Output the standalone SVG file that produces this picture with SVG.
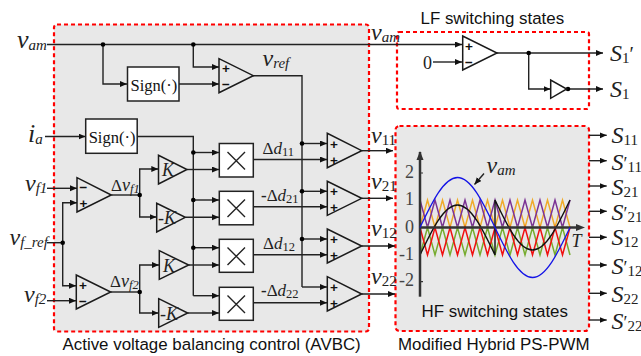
<svg xmlns="http://www.w3.org/2000/svg" width="641" height="356" viewBox="0 0 641 356">
<style>
text{font-family:"Liberation Serif","Times New Roman",serif;fill:#222}
.cap{font-family:"Liberation Sans",Arial,sans-serif;font-size:16.900px;fill:#111}
.v{font-style:italic;font-size:24px}
.big{font-size:26px}
.sub{font-size:15px;baseline-shift:-2px}
.i{font-style:italic}
.sg{font-size:16.500px;fill:#111}
.d{font-size:17px}
.ds{font-size:12.500px;baseline-shift:-2px}
.ps{font-family:"Liberation Sans",Arial,sans-serif;font-size:13.500px;font-weight:bold;text-anchor:middle;fill:#111}
.K{font-style:italic;font-size:18px}
.tick{font-size:18px;text-anchor:end;fill:#444}
.panel{stroke:#f00;stroke-width:2.200;stroke-dasharray:4 3}
.w{fill:none;stroke:#222;stroke-width:1.400}
.a{marker-end:url(#ah)}
.t{fill:none;stroke:#1a1a1a;stroke-width:1.500;stroke-linejoin:miter}
.b{fill:#fff;stroke:#222;stroke-width:1.500}
.x{stroke:#222;stroke-width:1.400}
.dot{fill:#000}
.tri{fill:none;stroke-width:1.500}
</style>
<defs>
<marker id="ah" markerUnits="userSpaceOnUse" markerWidth="8" markerHeight="7" refX="7" refY="3" orient="auto"><path d="M0 0L7 3L0 6z" fill="#111"/></marker>
</defs>
<g id="panels">
<rect class="panel" x="54" y="24.500" width="315" height="307" rx="3" fill="#e8e8e8"/>
<rect class="panel" x="397" y="32" width="192" height="77" rx="2" fill="#fff"/>
<rect class="panel" x="395.500" y="126" width="193.500" height="205" rx="4" fill="#e8e8e8"/>
</g>
<g id="connectors">
<path class="w a" style="stroke-width:1.700" d="M47 44.500H462"/>
<path class="w a" d="M103 44.500V84H127"/>
<path class="w a" d="M193.300 44.500V67H219"/>
<path class="w a" d="M179 84H219"/>
<path class="w" d="M253 75.700H302V287"/>
<path class="w a" d="M302 143.500H327"/>
<path class="w a" d="M302 191.300H327"/>
<path class="w a" d="M302 239H327"/>
<path class="w a" d="M302 287H327"/>
<path class="w a" d="M45 136.500H85.500"/>
<path class="w" d="M137 136.500H193.300V295.700"/>
<path class="w a" d="M193.300 152.500H219"/>
<path class="w a" d="M193.300 200H219"/>
<path class="w a" d="M193.300 247.700H219"/>
<path class="w a" d="M193.300 295.700H219"/>
<path class="w a" d="M187 169.500H219"/>
<path class="w a" d="M185.500 217.300H219"/>
<path class="w a" d="M188.700 265H219"/>
<path class="w a" d="M187.700 313H219"/>
<path class="w a" d="M253 159.500H327"/>
<path class="w a" d="M253 206.700H327"/>
<path class="w a" d="M253 254.700H327"/>
<path class="w a" d="M253 302.700H327"/>
<path class="w a" d="M361.700 150.700H393"/>
<path class="w a" d="M361.700 198.300H393"/>
<path class="w a" d="M361.700 246H395"/>
<path class="w a" d="M361.700 294H395"/>
<path class="w a" d="M47 188.300H77"/>
<path class="w a" d="M47 300.700H76"/>
<path class="w" d="M47 242.700H62.700"/>
<path class="w a" d="M62.700 242.700V202.700H77"/>
<path class="w a" d="M62.700 242.700V285.700H76"/>
<path class="w" d="M111.300 195H139.700"/>
<path class="w a" d="M139.700 195V217H156.500"/>
<path class="w a" d="M139.700 195V169H158.300"/>
<path class="w" d="M110.700 292H139.700"/>
<path class="w a" d="M139.700 292V313H158.500"/>
<path class="w a" d="M139.700 292V265H159"/>
<path class="w a" d="M433 62H462"/>
<path class="w a" d="M497 53H603"/>
<path class="w a" d="M528.700 53V89H550.500"/>
<path class="w a" d="M567 89H603"/>
<path class="w a" d="M589 135.300H606.700"/>
<path class="w a" d="M589 160.700H606.700"/>
<path class="w a" d="M589 186H606.700"/>
<path class="w a" d="M589 211.300H606.700"/>
<path class="w a" d="M589 237.300H606.700"/>
<path class="w a" d="M589 265H606.700"/>
<path class="w a" d="M589 293.300H606.700"/>
<path class="w a" d="M589 320H606.700"/>
<g class="dot">
<circle cx="103" cy="44.500" r="2.300"/><circle cx="193.300" cy="44.500" r="2.300"/>
<circle cx="193.300" cy="152.500" r="2.300"/><circle cx="193.300" cy="200" r="2.300"/><circle cx="193.300" cy="247.700" r="2.300"/>
<circle cx="302" cy="143.500" r="2.300"/><circle cx="302" cy="191.300" r="2.300"/><circle cx="302" cy="239" r="2.300"/>
<circle cx="62.700" cy="242.700" r="2.300"/><circle cx="139.700" cy="195" r="2.300"/><circle cx="139.700" cy="292" r="2.300"/>
<circle cx="528.700" cy="53" r="2.300"/><circle cx="568" cy="89" r="2.300"/>
</g>
</g>
<g id="sign1"><rect class="b" x="127.500" y="67" width="51.500" height="34"/><text class="sg" x="130.500" y="90.500">Sign(·)</text></g>
<g id="sign2"><rect class="b" x="85.700" y="119" width="51.500" height="34.300"/><text class="sg" x="88.700" y="143">Sign(·)</text></g>
<g id="cmpRef"><polygon class="t" points="219,58.700 219,92.700 253.300,75.700"/><text class="ps" x="226" y="73">+</text><text class="ps" x="226" y="89">−</text></g>
<g id="cmpF1"><polygon class="t" points="77,177.700 77,212 111.300,195"/><text class="ps" x="83.500" y="192">−</text><text class="ps" x="83.500" y="208">+</text></g>
<g id="cmpF2"><polygon class="t" points="76.300,275 76.300,309 110.700,292"/><text class="ps" x="83" y="290">+</text><text class="ps" x="83" y="305.500">−</text></g>
<g id="gainK1"><polygon class="t" points="158.500,155.300 158.500,184 187,169.500"/><text class="K" x="162" y="175.500">K</text></g>
<g id="gainNK1"><polygon class="t" points="156.700,203.300 156.700,232 185.300,217.300"/><text class="K" x="158" y="224">-K</text></g>
<g id="gainK2"><polygon class="t" points="159.300,250.700 159.300,279.300 188.700,265"/><text class="K" x="163" y="271.500">K</text></g>
<g id="gainNK2"><polygon class="t" points="158.700,298.700 158.700,327.300 187.700,313"/><text class="K" x="160" y="320">-K</text></g>
<g id="mul1"><rect class="b" x="219.300" y="143.500" width="34" height="33.500"/><path class="x" d="M227.500 152L245 169.500M245 152L227.500 169.500"/></g>
<g id="mul2"><rect class="b" x="219.300" y="191.300" width="34" height="33.500"/><path class="x" d="M227.500 199.500L245 217M245 199.500L227.500 217"/></g>
<g id="mul3"><rect class="b" x="219.300" y="239.300" width="34" height="33"/><path class="x" d="M227.500 247.500L245 265M245 247.500L227.500 265"/></g>
<g id="mul4"><rect class="b" x="219.300" y="287.300" width="34" height="33"/><path class="x" d="M227.500 295.500L245 313M245 295.500L227.500 313"/></g>
<g id="sum1"><polygon class="t" points="327.300,133.300 327.300,167.700 361.700,150.700"/><text class="ps" x="334" y="148.500">+</text><text class="ps" x="334" y="164.500">+</text></g>
<g id="sum2"><polygon class="t" points="327.300,181.300 327.300,215.300 361.700,198.300"/><text class="ps" x="334" y="196">+</text><text class="ps" x="334" y="212">+</text></g>
<g id="sum3"><polygon class="t" points="327.300,229 327.300,263 361.700,246"/><text class="ps" x="334" y="244">+</text><text class="ps" x="334" y="260">+</text></g>
<g id="sum4"><polygon class="t" points="327.300,276.700 327.300,311 361.700,294"/><text class="ps" x="334" y="292">+</text><text class="ps" x="334" y="308">+</text></g>
<g id="cmpLF"><polygon class="t" points="462.700,36 462.700,70 497,53"/><text class="ps" x="469" y="51">+</text><text class="ps" x="469" y="67">−</text></g>
<g id="notLF"><polygon class="t" points="550.700,80 550.700,98.300 566.700,89"/></g>
<g id="plot">
<path class="tri" stroke="#f0ab2a" d="M420 227.500l7.500-27.500 7.500 27.500 7.500-27.500 7.500 27.500 7.500-27.500 7.500 27.500 7.500-27.500 7.500 27.500 7.500-27.500 7.500 27.500 7.500-27.500 7.500 27.500 7.500-27.500 7.500 27.500 7.500-27.500 7.500 27.500 7.500-27.500 7.500 27.500 7.500-27.500 7.500 27.500"/>
<path class="tri" stroke="#7b3294" d="M420 200l7.500 27.500 7.500-27.500 7.500 27.500 7.500-27.500 7.500 27.500 7.500-27.500 7.500 27.500 7.500-27.500 7.500 27.500 7.500-27.500 7.500 27.500 7.500-27.500 7.500 27.500 7.500-27.500 7.500 27.500 7.500-27.500 7.500 27.500 7.500-27.500 7.500 27.500 7.500-27.500"/>
<path class="tri" stroke="#77ac30" d="M420 255l7.500-27.500 7.500 27.500 7.500-27.500 7.500 27.500 7.500-27.500 7.500 27.500 7.500-27.500 7.500 27.500 7.500-27.500 7.500 27.500 7.500-27.500 7.500 27.500 7.500-27.500 7.500 27.500 7.500-27.500 7.500 27.500 7.500-27.500 7.500 27.500 7.500-27.500 7.500 27.500"/>
<path class="tri" stroke="#f01010" d="M420 227.500l7.500 27.500 7.500-27.500 7.500 27.500 7.500-27.500 7.500 27.500 7.500-27.500 7.500 27.500 7.500-27.500 7.500 27.500 7.500-27.500 7.500 27.500 7.500-27.500 7.500 27.500 7.500-27.500 7.500 27.500 7.500-27.500 7.500 27.500 7.500-27.500 7.500 27.500 7.500-27.500"/>
<path fill="none" stroke="#111" stroke-width="1.400" d="M420 255C432.230 229.400 443.930 205 457.500 205C471.070 205 482.770 229.400 495 255V200C507.230 225.600 518.930 250 532.500 250C546.070 250 557.770 225.600 570 200"/>
<path d="M420 152V296.700" stroke="#333" stroke-width="2.500" fill="none"/>
<path d="M420 151l-3.500 9h7z" fill="#333"/>
<path d="M420 227.500H580" stroke="#333" stroke-width="2.500" fill="none"/>
<path d="M585 227.500l-9-3.500v7z" fill="#333"/>
<path d="M420 173h3M420 281.700h3" stroke="#333" stroke-width="1.200" fill="none"/>
<path fill="none" stroke="#1414e6" stroke-width="1.300" d="M420 227.500C432.230 201.900 443.930 177.500 457.500 177.500C471.070 177.500 482.770 201.900 495 227.500C507.230 253.100 518.930 277.500 532.500 277.500C546.070 277.500 557.770 253.100 570 227.500"/>
<path class="w a" d="M484 173.500L474.500 184.500"/>
<text class="tick" x="414" y="178">2</text>
<text class="tick" x="414" y="204.500">1</text>
<text class="tick" x="414" y="233">0</text>
<text class="tick" x="414" y="259.500">-1</text>
<text class="tick" x="414" y="286">-2</text>
<text class="i" font-size="18" x="571.500" y="246.500">T</text>
<text class="v" x="486.500" y="173">v<tspan class="sub">am</tspan></text>
</g>
<g id="labels">
<text class="v big" x="17" y="48">v<tspan class="sub">am</tspan></text>
<text class="v" x="371" y="39.500">v<tspan class="sub">am</tspan></text>
<text class="v" x="262.500" y="65.500">v<tspan class="sub">ref</tspan></text>
<text class="v big" x="28" y="141.500">i<tspan class="sub">a</tspan></text>
<text class="v" x="25" y="190.500">v<tspan class="sub">f1</tspan></text>
<text class="v" x="24" y="301.500">v<tspan class="sub">f2</tspan></text>
<text class="v" x="9.500" y="245">v<tspan class="sub">f_ref</tspan></text>
<text class="d" x="111" y="190.500">Δ<tspan class="i" font-size="18">v</tspan><tspan class="i ds">f1</tspan></text>
<text class="d" x="110" y="286.500">Δ<tspan class="i" font-size="18">v</tspan><tspan class="i ds">f2</tspan></text>
<text class="d" x="262.500" y="153.500">Δ<tspan class="i">d</tspan><tspan class="ds">11</tspan></text>
<text class="d" x="261" y="200.500"><tspan font-weight="bold">-</tspan>Δ<tspan class="i">d</tspan><tspan class="ds">21</tspan></text>
<text class="d" x="263" y="248.500">Δ<tspan class="i">d</tspan><tspan class="ds">12</tspan></text>
<text class="d" x="261" y="296"><tspan font-weight="bold">-</tspan>Δ<tspan class="i">d</tspan><tspan class="ds">22</tspan></text>
<text class="v" x="371" y="143">v<tspan class="sub" font-style="normal">11</tspan></text>
<text class="v" x="371" y="188.500">v<tspan class="sub" font-style="normal">21</tspan></text>
<text class="v" x="371" y="236">v<tspan class="sub" font-style="normal">12</tspan></text>
<text class="v" x="371" y="284">v<tspan class="sub" font-style="normal">22</tspan></text>
<text font-size="18" fill="#444" x="423" y="68.500">0</text>
<text class="v" x="610" y="61">S<tspan class="sub" font-style="normal">1</tspan><tspan font-style="normal" font-size="20">′</tspan></text>
<text class="v" x="610" y="96.500">S<tspan class="sub" font-style="normal">1</tspan></text>
<text class="v" x="611.500" y="142.500">S<tspan class="sub" font-style="normal">11</tspan></text>
<text class="v" x="611.500" y="170">S<tspan font-style="normal" font-size="18">′</tspan><tspan class="sub" font-style="normal">11</tspan></text>
<text class="v" x="611.500" y="195">S<tspan class="sub" font-style="normal">21</tspan></text>
<text class="v" x="611.500" y="220">S<tspan font-style="normal" font-size="18">′</tspan><tspan class="sub" font-style="normal">21</tspan></text>
<text class="v" x="611.500" y="245">S<tspan class="sub" font-style="normal">12</tspan></text>
<text class="v" x="611.500" y="273.500">S<tspan font-style="normal" font-size="18">′</tspan><tspan class="sub" font-style="normal">12</tspan></text>
<text class="v" x="611.500" y="301.500">S<tspan class="sub" font-style="normal">22</tspan></text>
<text class="v" x="611.500" y="328.500">S<tspan font-style="normal" font-size="18">′</tspan><tspan class="sub" font-style="normal">22</tspan></text>
<text class="cap" x="420.500" y="24">LF switching states</text>
<text class="cap" x="421.500" y="317">HF switching states</text>
<text class="cap" x="62.500" y="350">Active voltage balancing control (AVBC)</text>
<text class="cap" x="398" y="350">Modified Hybrid PS-PWM</text>
</g>
</svg>
